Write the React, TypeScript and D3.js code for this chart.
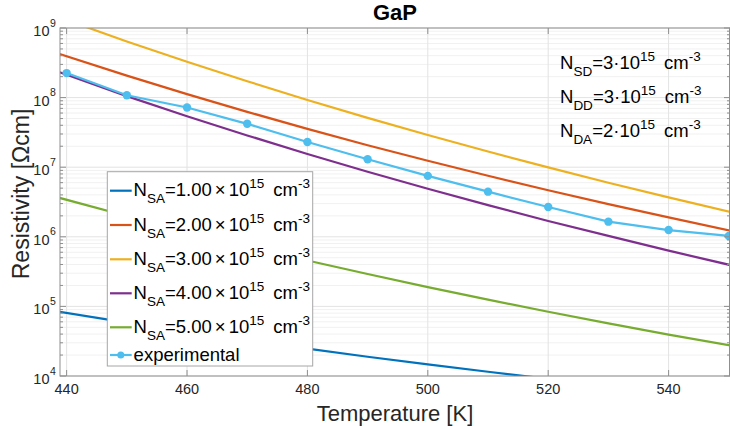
import React from "react";
import * as d3 from "d3";

const temps = [438, 450, 460, 470, 480, 490, 500, 510, 520, 530, 540, 551];
const nsa1 = [8.57e4, 5.86e4, 4.34e4, 3.25e4, 2.47e4, 1.89e4, 1.47e4, 1.15e4, 9.1e3, 7.26e3, 5.83e3, 4.63e3];
const nsa2 = [4.47e8, 2.07e8, 1.12e8, 6.24e7, 3.56e7, 2.07e7, 1.24e7, 7.53e6, 4.67e6, 2.95e6, 1.9e6, 1.19e6];
const nsa3 = [1.5e9, 6.4e8, 3.27e8, 1.72e8, 9.25e7, 5.12e7, 2.9e7, 1.68e7, 9.93e6, 5.98e6, 3.68e6, 2.2e6];
const nsa4 = [2.45e8, 1.05e8, 5.41e7, 2.86e7, 1.55e7, 8.61e6, 4.9e6, 2.85e6, 1.69e6, 1.03e6, 6.32e5, 3.79e5];
const nsa5 = [3.79e6, 1.99e6, 1.19e6, 7.31e5, 4.57e5, 2.92e5, 1.89e5, 1.25e5, 8.38e4, 5.7e4, 3.94e4, 2.67e4];
const expTemps = [440, 450, 460, 470, 480, 490, 500, 510, 520, 530, 540, 550];
const expVals = [2.25e8, 1.08e8, 7.2e7, 4.2e7, 2.3e7, 1.3e7, 7.5e6, 4.45e6, 2.68e6, 1.65e6, 1.25e6, 1.03e6];

const seriesNames = ["1.00", "2.00", "3.00", "4.00", "5.00"];
const seriesColors = ["#0072BD", "#D95319", "#EDB120", "#7E2F8E", "#77AC30"];
const expColor = "#4DBEEE";
const xTicks = [440, 460, 480, 500, 520, 540];
const yExps = [4, 5, 6, 7, 8, 9];
const annotSubs = ["SD", "DD", "DA"];
const annotVals = ["3", "3", "2"];

const W = 730, H = 426;
const L = 60, R = 730, T = 28, B = 376;
const FONT = "'Liberation Sans', Arial, Helvetica, sans-serif";

export default function App() {
  const x = d3.scaleLinear().domain([438.9, 550.2]).range([L, R]);
  const y = d3.scaleLog().domain([1e4, 1e9]).range([B, T]);
  const line = d3.line<[number, number]>().x((d) => x(d[0])).y((d) => y(d[1]));
  const series = [nsa1, nsa2, nsa3, nsa4, nsa5];

  const minorY: number[] = [];
  for (let e = 4; e < 9; e++) for (let m = 2; m <= 9; m++) minorY.push(m * Math.pow(10, e));

  const axisColor = "#8f8f8f";
  const textColor = "#262626";
  const LF = 18.5, LS = 13.5;
  const SUB = 7, SUP = 8;

  const legendRows = [190.7, 225, 259.3, 293.3, 327.3];

  return (
    <svg width={W} height={H} style={{ position: "absolute", left: 0, top: 0, background: "#fff" }} fontFamily={FONT}>
      <defs>
        <clipPath id="plotclip">
          <rect x={L} y={T} width={R - L} height={B - T} />
        </clipPath>
      </defs>
      <rect x={0} y={0} width={W} height={H} fill="#fff" />
      {minorY.map((v, i) => (
        <line key={"mg" + i} x1={L} x2={R} y1={y(v)} y2={y(v)} stroke="#f1f1f1" strokeWidth={1} />
      ))}
      {yExps.map((e) => (
        <line key={"gy" + e} x1={L} x2={R} y1={y(Math.pow(10, e))} y2={y(Math.pow(10, e))} stroke="#e3e3e3" strokeWidth={1} />
      ))}
      {xTicks.map((t) => (
        <line key={"gx" + t} x1={x(t)} x2={x(t)} y1={T} y2={B} stroke="#e3e3e3" strokeWidth={1} />
      ))}
      <g clipPath="url(#plotclip)">
        {series.map((s, i) => (
          <path key={"s" + i} d={line(temps.map((t, j) => [t, s[j]] as [number, number])) || ""} fill="none" stroke={seriesColors[i]} strokeWidth={2.2} />
        ))}
        <path d={line(expTemps.map((t, j) => [t, expVals[j]] as [number, number])) || ""} fill="none" stroke={expColor} strokeWidth={2.2} />
        {expTemps.map((t, j) => (
          <circle key={"c" + j} cx={x(t)} cy={y(expVals[j])} r={4.2} fill={expColor} />
        ))}
      </g>
      <rect x={L} y={T} width={R - L - 0.5} height={B - T} fill="none" stroke={axisColor} strokeWidth={1} />
      {xTicks.map((t) => (
        <g key={"xt" + t}>
          <line x1={x(t)} x2={x(t)} y1={B} y2={B - 6} stroke={axisColor} />
          <line x1={x(t)} x2={x(t)} y1={T} y2={T + 6} stroke={axisColor} />
          <text x={x(t)} y={394} textAnchor="middle" fontSize={14.5} fill={textColor}>{t}</text>
        </g>
      ))}
      {yExps.map((e) => {
        const yy = y(Math.pow(10, e));
        return (
          <g key={"yt" + e}>
            <line x1={L} x2={L + 6} y1={yy} y2={yy} stroke={axisColor} />
            <line x1={R - 6} x2={R} y1={yy} y2={yy} stroke={axisColor} />
            <text x={49.5} y={yy + 8} textAnchor="end" fontSize={14.5} fill={textColor}>10</text>
            <text x={50} y={yy - 1.5} textAnchor="start" fontSize={10.5} fill={textColor}>{e}</text>
          </g>
        );
      })}
      {minorY.map((v, i) => (
        <g key={"my" + i}>
          <line x1={L} x2={L + 3} y1={y(v)} y2={y(v)} stroke={axisColor} />
          <line x1={R - 3} x2={R} y1={y(v)} y2={y(v)} stroke={axisColor} />
        </g>
      ))}
      <text x={(L + R) / 2} y={421} textAnchor="middle" fontSize={22} fill={textColor}>Temperature [K]</text>
      <text transform={`translate(29,194) rotate(-90)`} textAnchor="middle" fontSize={23} fill={textColor}>Resistivity [Ωcm]</text>
      <text x={395} y={20} textAnchor="middle" fontSize={22} fontWeight="bold" fill="#000">GaP</text>
      {annotSubs.map((s, i) => (
        <text key={"an" + i} x={560} y={69 + i * 34.2} fontSize={LF} fill="#000">
          N<tspan dy={SUB} fontSize={LS}>{s}</tspan>
          <tspan dy={-SUB} fontSize={LF}>={annotVals[i]}·10</tspan>
          <tspan dy={-SUP} fontSize={LS}>15</tspan>
          <tspan dy={SUP} dx={9} fontSize={LF}>cm</tspan>
          <tspan dy={-SUP} fontSize={LS}>-3</tspan>
        </text>
      ))}
      <rect x={107.3} y={171.7} width={205.4} height={194.3} fill="#fff" stroke="#a6a6a6" strokeWidth={1} />
      {seriesNames.map((n, i) => (
        <g key={"lg" + i}>
          <line x1={110} x2={131.7} y1={legendRows[i]} y2={legendRows[i]} stroke={seriesColors[i]} strokeWidth={2.2} />
          <text x={133.6} y={legendRows[i] + 5.5} fontSize={LF} fill="#000">
            N<tspan dy={SUB} fontSize={LS}>SA</tspan>
            <tspan dy={-SUB} fontSize={LF}>={n}</tspan>
            <tspan dx={3} fontSize={LF}>×</tspan>
            <tspan dx={3} fontSize={LF}>10</tspan>
            <tspan dy={-SUP} fontSize={LS}>15</tspan>
            <tspan dy={SUP} dx={9} fontSize={LF}>cm</tspan>
            <tspan dy={-SUP} fontSize={LS}>-3</tspan>
          </text>
        </g>
      ))}
      <line x1={110} x2={131.7} y1={355} y2={355} stroke={expColor} strokeWidth={2.2} />
      <circle cx={120.8} cy={355} r={3.5} fill={expColor} />
      <text x={133.6} y={361} fontSize={LF} fill="#000">experimental</text>
    </svg>
  );
}
